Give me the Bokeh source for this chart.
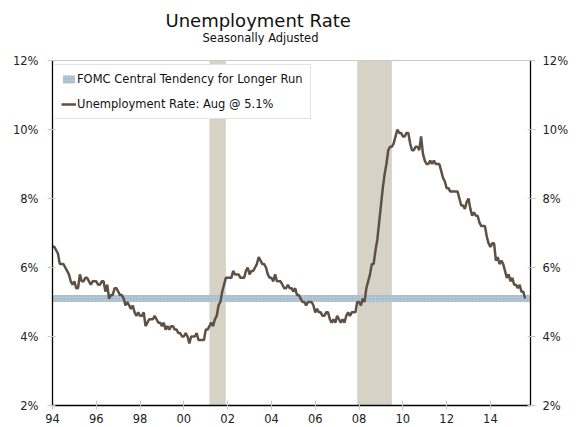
import numpy as np
from bokeh.plotting import figure
from bokeh.models import (Range1d, LinearAxis, FixedTicker, PrintfTickFormatter,
                          Title, Legend, LegendItem)
from bokeh.embed import file_html
from bokeh.resources import INLINE

# Monthly unemployment rate (%), Jan 1994 - Aug 2015
years = list(range(1994, 2016))
unrate_by_year = {
    1994: [6.6, 6.6, 6.5, 6.4, 6.1, 6.1, 6.1, 6.0, 5.9, 5.8, 5.6, 5.5],
    1995: [5.6, 5.4, 5.4, 5.8, 5.6, 5.6, 5.7, 5.7, 5.6, 5.5, 5.6, 5.6],
    1996: [5.6, 5.5, 5.5, 5.6, 5.6, 5.3, 5.5, 5.1, 5.2, 5.2, 5.4, 5.4],
    1997: [5.3, 5.2, 5.2, 5.1, 4.9, 5.0, 4.9, 4.8, 4.9, 4.7, 4.6, 4.7],
    1998: [4.6, 4.6, 4.7, 4.3, 4.4, 4.5, 4.5, 4.5, 4.6, 4.5, 4.4, 4.4],
    1999: [4.3, 4.4, 4.2, 4.3, 4.2, 4.3, 4.3, 4.2, 4.2, 4.1, 4.1, 4.0],
    2000: [4.0, 4.1, 4.0, 3.8, 4.0, 4.0, 4.0, 4.1, 3.9, 3.9, 3.9, 3.9],
    2001: [4.2, 4.2, 4.3, 4.4, 4.3, 4.5, 4.6, 4.9, 5.0, 5.3, 5.5, 5.7],
    2002: [5.7, 5.7, 5.7, 5.9, 5.8, 5.8, 5.8, 5.7, 5.7, 5.7, 5.9, 6.0],
    2003: [5.8, 5.9, 5.9, 6.0, 6.1, 6.3, 6.2, 6.1, 6.1, 6.0, 5.8, 5.7],
    2004: [5.7, 5.6, 5.8, 5.6, 5.6, 5.6, 5.5, 5.4, 5.4, 5.5, 5.4, 5.4],
    2005: [5.3, 5.4, 5.2, 5.2, 5.1, 5.0, 5.0, 4.9, 5.0, 5.0, 5.0, 4.9],
    2006: [4.7, 4.8, 4.7, 4.7, 4.6, 4.6, 4.7, 4.7, 4.5, 4.4, 4.5, 4.4],
    2007: [4.6, 4.5, 4.4, 4.5, 4.4, 4.6, 4.7, 4.6, 4.7, 4.7, 4.7, 5.0],
    2008: [5.0, 4.9, 5.1, 5.0, 5.4, 5.6, 5.8, 6.1, 6.1, 6.5, 6.8, 7.3],
    2009: [7.8, 8.3, 8.7, 9.0, 9.4, 9.5, 9.5, 9.6, 9.8, 10.0, 9.9, 9.9],
    2010: [9.8, 9.8, 9.9, 9.9, 9.6, 9.4, 9.4, 9.5, 9.5, 9.4, 9.8, 9.3],
    2011: [9.1, 9.0, 9.0, 9.1, 9.0, 9.1, 9.0, 9.0, 9.0, 8.8, 8.6, 8.5],
    2012: [8.3, 8.3, 8.2, 8.2, 8.2, 8.2, 8.2, 8.0, 7.8, 7.8, 7.7, 7.9],
    2013: [8.0, 7.7, 7.5, 7.6, 7.5, 7.5, 7.3, 7.2, 7.2, 7.2, 6.9, 6.7],
    2014: [6.6, 6.7, 6.7, 6.2, 6.3, 6.1, 6.2, 6.1, 5.9, 5.7, 5.8, 5.6],
    2015: [5.7, 5.5, 5.5, 5.4, 5.5, 5.3, 5.3, 5.1],
}

# Recessions (start, end) in fractional years
recession_start = [2001 + 2 / 12, 2007 + 11 / 12]
recession_end = [2001 + 11 / 12, 2009 + 6 / 12]

# FOMC central tendency for longer-run unemployment rate
fomc_low = 5.0
fomc_high = 5.2

x_tick_years = [1994, 1996, 1998, 2000, 2002, 2004, 2006, 2008, 2010, 2012, 2014]
x_tick_labels = ["94", "96", "98", "00", "02", "04", "06", "08", "10", "12", "14"]
y_ticks = [2, 4, 6, 8, 10, 12]

# Build monthly series
t = []
u = []
for yr in years:
    for m, v in enumerate(unrate_by_year[yr]):
        t.append(yr + m / 12)
        u.append(v)

x_start, x_end = 1994.0, 2015.83
FONT = "DejaVu Sans"

p = figure(width=584, height=427, output_backend="svg", toolbar_location=None,
           x_range=Range1d(x_start, x_end), y_range=Range1d(2, 12),
           min_border_left=52, min_border_right=54, min_border_top=60,
           min_border_bottom=22, y_axis_location=None, x_axis_location=None)
p.grid.visible = False
p.outline_line_color = "#c8c8c8"
p.outline_line_width = 1
p.background_fill_color = "white"
p.border_fill_color = "white"

# Recession shading
rec = p.quad(left=recession_start, right=recession_end, bottom=2, top=12,
             fill_color="#d6d3c6", line_color=None)

# FOMC band
band = p.varea(x=[x_start, x_end], y1=[fomc_low, fomc_low], y2=[fomc_high, fomc_high],
               fill_color="#b3c7d4", hatch_pattern="dot", hatch_color="#95afc1",
               hatch_scale=3, hatch_weight=1)

# Unemployment line
ln = p.line(t, u, line_color="#5e5044", line_width=2.5)

# Axes
xaxis = LinearAxis(ticker=FixedTicker(ticks=x_tick_years),
                   major_label_overrides={yv: lab for yv, lab in zip(x_tick_years, x_tick_labels)},
                   axis_line_color="black", axis_line_width=1.3,
                   major_tick_line_color="#c8c8c8", major_tick_in=5, major_tick_out=4,
                   minor_tick_line_color=None, major_label_standoff=4,
                   major_label_text_font=FONT, major_label_text_font_size="11.5px",
                   major_label_text_color="#222222")
p.add_layout(xaxis, "below")

for side, standoff in (("left", 9), ("right", 7)):
    ya = LinearAxis(ticker=FixedTicker(ticks=y_ticks),
                    formatter=PrintfTickFormatter(format="%d%%"),
                    axis_line_color="black", axis_line_width=1.3,
                    major_tick_line_color="#c8c8c8", major_tick_in=3, major_tick_out=5,
                    minor_tick_line_color=None, major_label_standoff=standoff,
                    major_label_text_font=FONT, major_label_text_font_size="11.5px",
                    major_label_text_color="#222222")
    p.add_layout(ya, side)

# Titles
sub = Title(text="Seasonally Adjusted\n", align="left", offset=150,
            vertical_align="top",
            text_font=FONT, text_font_size="11.5px", text_font_style="normal",
            text_color="#111111", standoff=0)
p.add_layout(sub, "above")
main = Title(text="Unemployment Rate", align="left", offset=113,
             text_font=FONT, text_font_size="18px", text_font_style="normal",
             text_color="#111111", standoff=0)
p.add_layout(main, "above")

legend = Legend(items=[LegendItem(label="FOMC Central Tendency for Longer Run", renderers=[band]),
                       LegendItem(label="Unemployment Rate: Aug @ 5.1%", renderers=[ln])],
                location=(1, 286), margin=0, padding=7, spacing=11,
                glyph_width=15, glyph_height=10, label_standoff=1,
                label_text_font=FONT, label_text_font_size="11.5px",
                label_text_color="#111111",
                border_line_color="#c8c8c8", border_line_width=1,
                background_fill_color="white", background_fill_alpha=1)
p.add_layout(legend)

open("out.html", "w").write(file_html(p, INLINE))
